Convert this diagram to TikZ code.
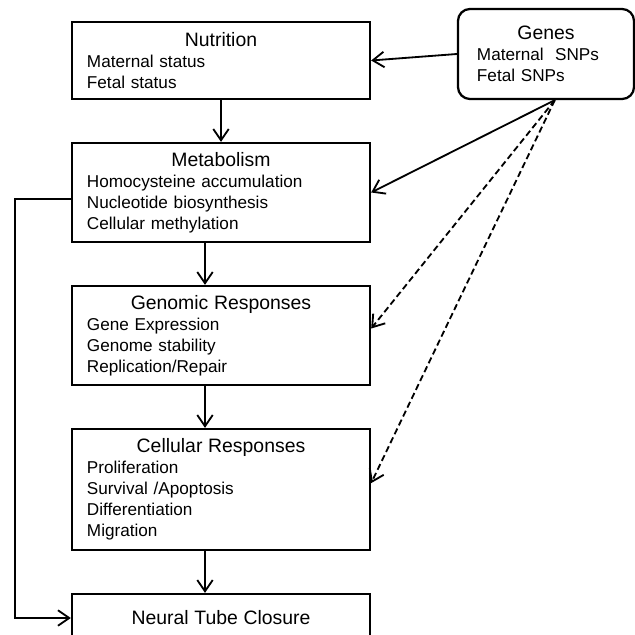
\documentclass[tikz,border=0pt]{standalone}
\usepackage{fontspec}
\setmainfont{Liberation Sans}
\usetikzlibrary{arrows.meta}
\newcommand{\boxhead}[1]{\makebox[\linewidth]{\fontsize{13.8}{14.9}\selectfont #1}}

\begin{document}
\begin{tikzpicture}[x=0.025cm, y=-0.025cm,
        every node/.style={font=\fontsize{12.2}{14.9}\selectfont},
        stage/.style={draw, line width=1.6pt, minimum width=7.45cm, text width=6.7cm, inner xsep=0.375cm, inner ysep=0pt, align=left},
        link/.style={line width=1.3pt, -{Straight Barb[length=8pt,width=11pt]}},
        weak/.style={link, dash pattern=on 4.5pt off 2.5pt}]
        \clip (0,0) rectangle (635,635);
        \node[stage, minimum height=1.925cm] (nutr) at (221,60.5) {\boxhead{Nutrition}\\ Maternal status\\ Fetal status};
        \node[stage, minimum height=2.475cm] (metab) at (221,192.5) {\boxhead{Metabolism}\\ Homocysteine accumulation\\ Nucleotide biosynthesis\\ Cellular methylation};
        \node[stage, minimum height=2.475cm] (genomic) at (221,335.5) {\boxhead{Genomic Responses}\\ Gene Expression\\ Genome stability\\ Replication/Repair};
        \node[stage, minimum height=3.025cm] (cell) at (221,489.5) {\boxhead{Cellular Responses}\\ Proliferation\\ Survival /Apoptosis\\ Differentiation\\ Migration};
        \node[stage, minimum height=1.2cm] (neural) at (221,618) {\boxhead{Neural Tube Closure}};
        \node[draw, line width=1.6pt, rounded corners=0.3cm, minimum width=4.4cm, minimum height=2.25cm, text width=3.45cm, inner xsep=0.475cm, align=left] (genes) at (546,54) {\boxhead{Genes}\\ Maternal~ SNPs\\ Fetal SNPs};
        \coordinate (gfoot) at ([xshift=2.2mm]genes.south);

        \draw[link] (genes.west) -- (nutr.east);
        \draw[link] (nutr.south) -- (metab.north);
        \draw[link] ([xshift=-4mm]metab.south) -- ([xshift=-4mm]genomic.north);
        \draw[link] ([xshift=-4mm]genomic.south) -- ([xshift=-4mm]cell.north);
        \draw[link] ([xshift=-4mm]cell.south) -- ([xshift=-4mm]neural.north);
        \draw[link] (gfoot) -- (metab.east);
        \draw[weak] (gfoot) -- ([yshift=1.75mm]genomic.east);
        \draw[weak] (gfoot) -- ([yshift=1.6mm]cell.east);
        \draw[link] ([yshift=-1.6mm]metab.west) -- ++(-56,0) |- (neural.west);
    \end{tikzpicture}
\end{document}
